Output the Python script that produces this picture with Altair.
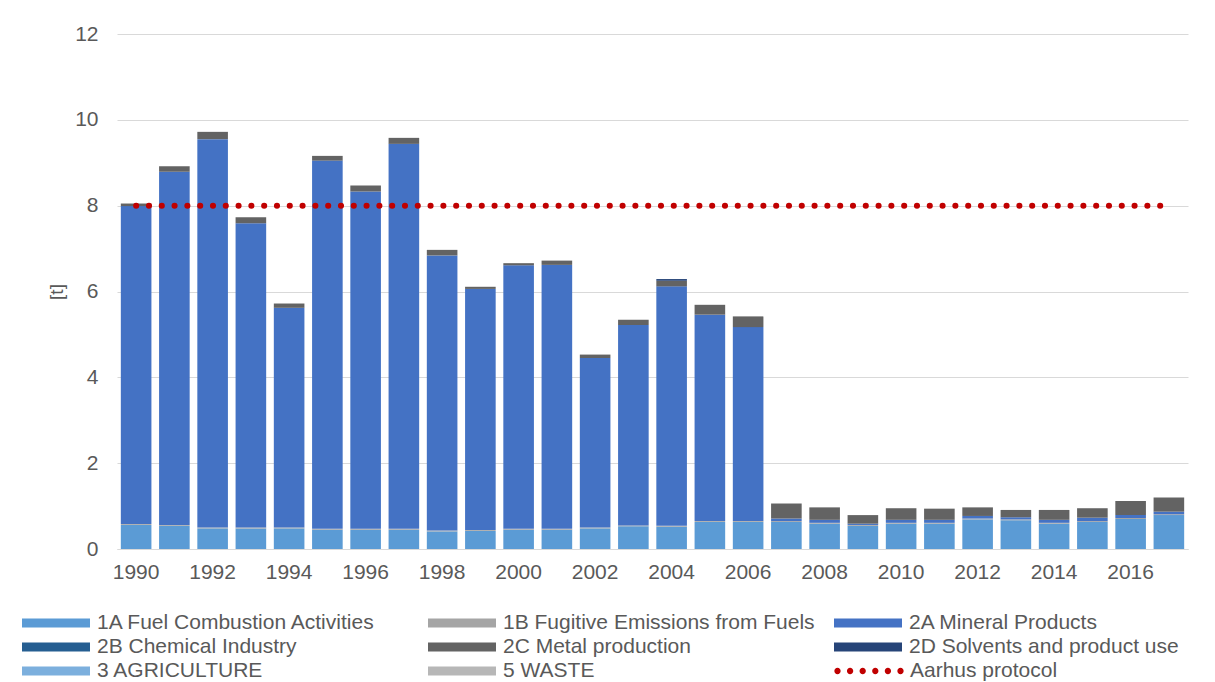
import altair as alt
import pandas as pd

years = list(range(1990, 2018))
categories = [
    "1A Fuel Combustion Activities",
    "1B Fugitive Emissions from Fuels",
    "2A Mineral Products",
    "2B Chemical Industry",
    "2C Metal production",
    "2D Solvents and product use",
    "3 AGRICULTURE",
    "5 WASTE",
]
colors = ["#5B9BD5", "#A5A5A5", "#4472C4", "#255E91", "#636363", "#264478", "#7CAFDD", "#B7B7B7"]

v_1A = [0.56, 0.54, 0.48, 0.48, 0.48, 0.45, 0.45, 0.45, 0.41, 0.42, 0.45, 0.45, 0.48, 0.53,
        0.52, 0.63, 0.63, 0.63, 0.59, 0.54, 0.59, 0.59, 0.69, 0.67, 0.59, 0.63, 0.70, 0.79]
v_1B = [0.02] * 28
v_2A = [7.41, 8.23, 9.05, 7.09, 5.12, 8.58, 7.86, 8.97, 6.41, 5.62, 6.14, 6.15, 3.95, 4.67,
        5.58, 4.81, 4.52, 0.06, 0.07, 0.03, 0.07, 0.07, 0.06, 0.05, 0.07, 0.08, 0.07, 0.06]
v_2B = [0.0] * 28
v_2C = [0.06, 0.13, 0.17, 0.14, 0.10, 0.11, 0.14, 0.14, 0.13, 0.05, 0.05, 0.10, 0.08, 0.12,
        0.13, 0.23, 0.25, 0.35, 0.29, 0.20, 0.27, 0.26, 0.20, 0.17, 0.23, 0.22, 0.33, 0.33]
v_2D = [0.0] * 14 + [0.04] + [0.0] * 13
v_3 = [0.0] * 28
v_5 = [0.0] * 28
aarhus = [8.0] * 28

series = [v_1A, v_1B, v_2A, v_2B, v_2C, v_2D, v_3, v_5]
rows = []
for ci, (cat, vals) in enumerate(zip(categories, series)):
    for y, v in zip(years, vals):
        rows.append({"year": y, "cat": cat, "value": v, "order": ci})
df = pd.DataFrame(rows)
df_line = pd.DataFrame({"year": years, "value": aarhus, "name": ["Aarhus protocol"] * 28})

TXT = "#595959"
FONT = "Liberation Sans"

dots_path = " ".join(
    f"M{c - 0.09:.3f},0 a0.09,0.09 0 1,0 0.18,0 a0.09,0.09 0 1,0 -0.18,0"
    for c in [-0.9, -0.54, -0.18, 0.18, 0.54, 0.9]
)
rect_path = "M-1,-0.13 L1,-0.13 L1,0.13 L-1,0.13 Z"

xenc = alt.X(
    "year:O",
    scale=alt.Scale(paddingInner=0.2, paddingOuter=0.1),
    axis=alt.Axis(
        title=None, values=list(range(1990, 2018, 2)), labelAngle=0, ticks=False,
        domainColor="#D9D9D9", domainWidth=1, labelPadding=12, labelFontSize=21,
        labelColor=TXT, labelFont=FONT, grid=False,
    ),
)

bars = alt.Chart(df).mark_bar().encode(
    x=xenc,
    y=alt.Y(
        "sum(value):Q",
        scale=alt.Scale(domain=[0, 12], nice=False),
        axis=alt.Axis(
            title="[t]", values=[0, 2, 4, 6, 8, 10, 12], ticks=False, domain=False,
            gridColor="#D9D9D9", gridWidth=1, labelFontSize=21, labelColor=TXT,
            labelFont=FONT, labelPadding=19, titleFontSize=19, titleColor=TXT,
            titleFont=FONT, titleFontWeight="normal", titlePadding=8,
        ),
    ),
    color=alt.Color(
        "cat:N",
        scale=alt.Scale(domain=categories, range=colors),
        legend=alt.Legend(
            title=None, orient="none", direction="horizontal", legendX=-95, legendY=578,
            columns=3, gridAlign="all", columnPadding=19, rowPadding=2, clipHeight=22,
            symbolType=rect_path, symbolSize=4624, symbolStrokeWidth=0,
            labelFontSize=21, labelColor=TXT, labelFont=FONT, labelOffset=7,
            labelLimit=500, padding=0,
        ),
    ),
    order=alt.Order("order:Q", sort="ascending"),
)

line = alt.Chart(df_line).mark_line(
    strokeWidth=6, strokeDash=[0.1, 12.7], strokeCap="round"
).encode(
    x=alt.X("year:O"),
    y=alt.Y("value:Q"),
    stroke=alt.Stroke(
        "name:N",
        scale=alt.Scale(domain=["Aarhus protocol"], range=["#C00000"]),
        legend=alt.Legend(
            title=None, orient="none", legendX=717, legendY=626, clipHeight=22,
            symbolType=dots_path, symbolSize=4900, symbolFillColor="#C00000",
            symbolStrokeWidth=0, labelFontSize=21, labelColor=TXT, labelFont=FONT,
            labelOffset=6, labelLimit=500, padding=0,
        ),
    ),
)

chart = alt.layer(bars, line).properties(
    width=1071, height=515,
    autosize=alt.AutoSizeParams(type="none"),
    padding={"left": 109, "top": 26, "right": 19, "bottom": 133},
    background="white",
).configure_view(stroke=None)

chart.save("out.html", embed_options={"renderer": "svg", "actions": False})
